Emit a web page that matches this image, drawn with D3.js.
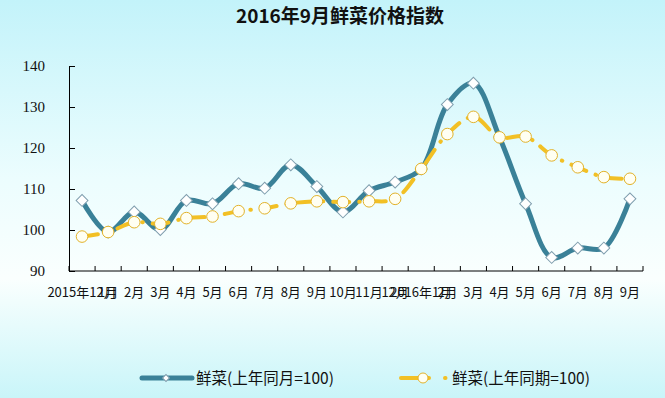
<!DOCTYPE html>
<html>
<head>
<meta charset="utf-8">
<script src="https://cdn.jsdelivr.net/npm/d3@7"></script>
<style>
  body { margin: 0; padding: 0; }
  svg { display: block; }
</style>
</head>
<body>
<svg></svg>
<script>
var width = 665,
    height = 398;

// Category labels (as printed on the axis)
var months = ['2015年12月', '1月', '2月', '3月', '4月', '5月', '6月', '7月', '8月', '9月', '10月', '11月',
    '12月', '2016年1月', '2月', '3月', '4月', '5月', '6月', '7月', '8月', '9月'];

// 鲜菜(上年同月=100)
var yoyMonth = [107.2, 99.5, 104.4, 100.1, 107.2, 106.4, 111.3, 110.2, 115.9, 110.6, 104.4, 109.6,
    111.7, 114.9, 130.6, 135.8, 122.6, 106.4, 93.3, 95.6, 95.6, 107.6];

// 鲜菜(上年同期=100)
var yoyPeriod = [98.4, 99.5, 101.9, 101.5, 102.9, 103.3, 104.6, 105.3, 106.5, 107.0, 106.8, 107.0,
    107.6, 114.9, 123.4, 127.6, 122.6, 122.8, 118.2, 115.3, 112.9, 112.5];

var yTicks = [90, 100, 110, 120, 130, 140];

var seriesNames = ['鲜菜(上年同月=100)', '鲜菜(上年同期=100)'];

var blue = '#3a8198',
    gold = '#f2c025';

var svg = d3.select('svg')
    .attr('width', width)
    .attr('height', height);

// Background gradient
var defs = svg.append('defs');
var grad = defs.append('linearGradient')
    .attr('id', 'bg')
    .attr('x1', 0).attr('y1', 0)
    .attr('x2', 0).attr('y2', 1);
grad.append('stop').attr('offset', '0%').attr('stop-color', '#c3f3fa');
grad.append('stop').attr('offset', '45%').attr('stop-color', '#ecfdfe');
grad.append('stop').attr('offset', '70%').attr('stop-color', '#fafffe');
grad.append('stop').attr('offset', '100%').attr('stop-color', '#c9f5f9');

svg.append('rect')
    .attr('width', width)
    .attr('height', height)
    .attr('fill', 'url(#bg)');

// Title
svg.append('text')
    .attr('x', 340)
    .attr('y', 23)
    .attr('text-anchor', 'middle')
    .style('font-family', '"Noto Sans CJK SC", sans-serif')
    .style('font-weight', 'bold')
    .style('font-size', '19px')
    .attr('fill', '#111')
    .text('2016年9月鲜菜价格指数');

// Scales
var x = d3.scaleBand()
    .domain(d3.range(months.length))
    .range([69, 643]);

var y = d3.scaleLinear()
    .domain([90, 140])
    .range([271, 66]);

function cx(d, i) { return x(i) + x.bandwidth() / 2; }

// Y axis (ticks pointing inward)
var yAxis = d3.axisLeft(y)
    .tickValues(yTicks)
    .tickSize(-6)
    .tickPadding(24);

var gy = svg.append('g')
    .attr('transform', 'translate(69,0)')
    .call(yAxis);
gy.select('.domain').attr('stroke', '#000');
gy.selectAll('.tick line').attr('stroke', '#000');
gy.selectAll('.tick text')
    .attr('fill', '#111')
    .style('font-family', '"Liberation Serif", serif')
    .style('font-size', '15px');

// X axis: line + tick marks at band boundaries
var gx = svg.append('g');
gx.append('line')
    .attr('x1', 69).attr('x2', 643)
    .attr('y1', y(90)).attr('y2', y(90))
    .attr('stroke', '#000');
gx.selectAll('line.tk')
    .data(d3.range(months.length + 1))
    .enter().append('line')
    .attr('class', 'tk')
    .attr('x1', function(i) { return 69 + i * x.bandwidth(); })
    .attr('x2', function(i) { return 69 + i * x.bandwidth(); })
    .attr('y1', y(90)).attr('y2', y(90) - 5)
    .attr('stroke', '#000');
gx.selectAll('text')
    .data(months)
    .enter().append('text')
    .attr('x', cx)
    .attr('y', 297)
    .attr('text-anchor', 'middle')
    .attr('fill', '#111')
    .style('font-family', '"Noto Sans CJK SC", sans-serif')
    .style('font-size', '13px')
    .text(function(d) { return d; });

// Lines
var line = d3.line()
    .x(cx)
    .y(function(d) { return y(d); })
    .curve(d3.curveCatmullRom.alpha(0.5));

svg.append('path')
    .datum(yoyMonth)
    .attr('d', line)
    .attr('fill', 'none')
    .attr('stroke', blue)
    .attr('stroke-width', 5)
    .attr('stroke-linejoin', 'round');

var diamond = d3.symbol().type(d3.symbolSquare).size(70);

svg.append('g').selectAll('path')
    .data(yoyMonth)
    .enter().append('path')
    .attr('d', diamond)
    .attr('transform', function(d, i) { return 'translate(' + cx(d, i) + ',' + y(d) + ') rotate(45)'; })
    .attr('fill', '#fff')
    .attr('stroke', '#7f9eae')
    .attr('stroke-width', 1);

svg.append('path')
    .datum(yoyPeriod)
    .attr('d', line)
    .attr('fill', 'none')
    .attr('stroke', gold)
    .attr('stroke-width', 4)
    .attr('stroke-linecap', 'round')
    .attr('stroke-dasharray', '16,10,0.5,10');

svg.append('g').selectAll('circle')
    .data(yoyPeriod)
    .enter().append('circle')
    .attr('cx', cx)
    .attr('cy', function(d) { return y(d); })
    .attr('r', 5.8)
    .attr('fill', '#fffff2')
    .attr('stroke', '#e2b22a')
    .attr('stroke-width', 1);

// Legend
var legend = svg.append('g').attr('transform', 'translate(0,378)');

legend.append('line')
    .attr('x1', 142).attr('x2', 192)
    .attr('stroke', blue).attr('stroke-width', 5)
    .attr('stroke-linecap', 'round');
legend.append('path')
    .attr('d', d3.symbol().type(d3.symbolSquare).size(24))
    .attr('transform', 'translate(166,0) rotate(45)')
    .attr('fill', '#fff').attr('stroke', '#7f9eae');
legend.append('text')
    .attr('x', 196).attr('y', 5.5)
    .attr('fill', '#111')
    .style('font-family', '"Noto Sans CJK SC", sans-serif')
    .style('font-size', '15.5px')
    .text(seriesNames[0]);

legend.append('line')
    .attr('x1', 401).attr('x2', 447)
    .attr('stroke', gold).attr('stroke-width', 4)
    .attr('stroke-linecap', 'round')
    .attr('stroke-dasharray', '28,16,0.5,50');
legend.append('circle')
    .attr('cx', 423).attr('r', 5)
    .attr('fill', '#fffff2').attr('stroke', '#e2b22a');
legend.append('text')
    .attr('x', 452).attr('y', 5.5)
    .attr('fill', '#111')
    .style('font-family', '"Noto Sans CJK SC", sans-serif')
    .style('font-size', '15.5px')
    .text(seriesNames[1]);
</script>
</body>
</html>
